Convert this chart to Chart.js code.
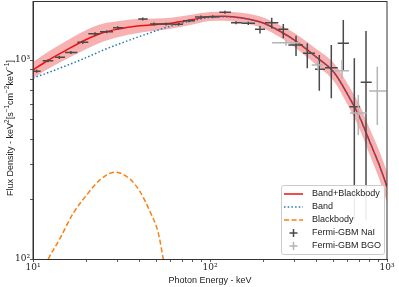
<!DOCTYPE html>
<html>
<head>
<meta charset="utf-8">
<script src="https://cdn.jsdelivr.net/npm/chart.js@4"></script>
<style>
  html, body { margin: 0; padding: 0; background: #fff; }
</style>
</head>
<body>
<canvas id="chart" width="399" height="287"></canvas>
<script>
// model curves (keV, keV^2 s^-1 cm^-2 keV^-1)
const modelEnergy = [10, 12, 15, 20, 25, 30, 40, 50, 60, 80, 100, 120, 150, 200, 250, 300, 400, 500, 600, 700, 800, 900, 1000];
const totalFlux = [891, 989, 1106, 1268, 1375, 1428, 1485, 1510, 1532, 1597, 1654, 1660, 1630, 1534, 1391, 1260, 1033, 871, 671, 517, 387, 300, 231];
const totalUpper = [977, 1091, 1227, 1415, 1525, 1567, 1611, 1619, 1633, 1693, 1743, 1749, 1727, 1635, 1491, 1367, 1133, 966, 758, 594, 450, 353, 275];
const totalLower = [812, 896, 997, 1136, 1239, 1302, 1370, 1408, 1438, 1508, 1570, 1576, 1538, 1440, 1297, 1162, 942, 784, 594, 450, 333, 255, 194];
const bandFlux = [812, 860, 928, 1029, 1123, 1196, 1313, 1407, 1482, 1580, 1636, 1651, 1625, 1530, 1388, 1257, 1031, 869, 670, 516, 386, 300, 230];

const bbEnergy = [11.69, 12.2, 14.21, 16.89, 20.11, 23.9, 29.06, 35.32, 40.22, 45.81, 51.05, 54.47, 56.41];
const bbFlux = [92, 100, 127, 170, 210, 250, 273, 252, 218, 173, 135, 100, 86];

// Fermi-GBM NaI points
const naiEnergy = [10.49, 12.15, 14.08, 16.39, 19.09, 22.40, 26.09, 30.10, 41.68, 48.27, 56.42, 66.38, 76.10, 88.96, 103.6, 121.5, 140.3, 164.6, 191.7, 223.2, 259.5, 306.2, 354.5, 414.5, 484.5, 566.3, 653.7, 761.0];
const naiEnergyLow = [10.04, 11.34, 13.31, 15.16, 17.80, 20.53, 23.90, 28.31, 39.35, 45.81, 51.05, 61.80, 70.39, 82.27, 94.94, 112.9, 131.4, 151.1, 179.6, 204.5, 243.2, 277.0, 335.3, 391.9, 446.3, 526.6, 612.4, 710.4];
const naiEnergyHigh = [11.05, 13.02, 15.16, 17.80, 20.53, 23.90, 28.31, 32.37, 44.46, 51.05, 61.80, 70.39, 82.27, 94.94, 112.9, 131.4, 151.1, 179.6, 204.5, 243.2, 277.0, 335.3, 391.9, 446.3, 526.6, 610.0, 704.0, 819.6];
const naiFlux = [877, 992, 1032, 1091, 1227, 1354, 1388, 1453, 1607, 1517, 1517, 1512, 1576, 1645, 1651, 1737, 1540, 1529, 1427, 1540, 1427, 1190, 1081, 898, 915, 1213, 583, 773];
const naiFluxLow = [862, 974, 1013, 1071, 1205, 1330, 1363, 1427, 1578, 1490, 1490, 1485, 1548, 1616, 1621, 1706, 1512, 1501, 1361, 1442, 1285, 1047, 908, 701, 642, 891, 157, 157];
const naiFluxHigh = [893, 1010, 1051, 1111, 1249, 1378, 1413, 1479, 1636, 1544, 1544, 1539, 1604, 1674, 1681, 1768, 1568, 1557, 1482, 1632, 1517, 1324, 1213, 1060, 1189, 1589, 1020, 1398];

// Fermi-GBM BGO points
const bgoEnergy = [268.8, 407.6, 557.0, 688.6, 881.5];
const bgoEnergyLow = [224.1, 375.5, 508.4, 618.0, 794.3];
const bgoEnergyHigh = [322.4, 434.8, 610.0, 768.0, 995.0];
const bgoFlux = [1222, 944, 884, 542, 699];
const bgoFluxLow = [1180, 884, 809, 420, 471];
const bgoFluxHigh = [1265, 989, 1000, 667, 925];

const xTickValues = [10, 100, 1000];
const xTickLabels = ['10¹', '10²', '10³'];
const yTickValues = [100, 1000];
const yTickLabels = ['10²', '10³'];

// y title pieces: [text, superscript?]
const yTitleParts = [['Flux Density - keV', false], ['2', true], ['[s', false], ['−1', true], ['cm', false], ['−2', true], ['keV', false], ['−1', true], [']', false]];

const SANS = "'Liberation Sans', 'DejaVu Sans', sans-serif";
const SERIF = "'DejaVu Serif', serif";
const NAI_COLOR = '#4a4a4a';
const BGO_COLOR = '#b4b4b4';

function pts(xs, ys) {
    return xs.map((x, i) => ({ x: x, y: ys[i] }));
}

function keepWholeTicks(scale) {
    scale.ticks = scale.ticks.filter(t => {
        let m = t.value / Math.pow(10, Math.floor(Math.log10(t.value)));
        return Math.abs(m - Math.round(m)) < 1e-6;
    });
}

function drawErrorSet(ctx, x, y, ex, exLo, exHi, fy, fyLo, fyHi, color) {
    ctx.strokeStyle = color;
    ctx.lineWidth = 1.5;
    ctx.beginPath();
    for (let i = 0; i < ex.length; i++) {
        let px = x.getPixelForValue(ex[i]);
        let py = y.getPixelForValue(fy[i]);
        ctx.moveTo(x.getPixelForValue(exLo[i]), py);
        ctx.lineTo(x.getPixelForValue(exHi[i]), py);
        ctx.moveTo(px, y.getPixelForValue(fyLo[i]));
        ctx.lineTo(px, y.getPixelForValue(fyHi[i]));
    }
    ctx.stroke();
}

const errorBars = {
    id: 'errorBars',
    afterDatasetsDraw(chart) {
        const { ctx, chartArea: a, scales: { x, y } } = chart;
        ctx.save();
        ctx.beginPath();
        ctx.rect(a.left, a.top, a.right - a.left, a.bottom - a.top);
        ctx.clip();
        drawErrorSet(ctx, x, y, naiEnergy, naiEnergyLow, naiEnergyHigh, naiFlux, naiFluxLow, naiFluxHigh, NAI_COLOR);
        drawErrorSet(ctx, x, y, bgoEnergy, bgoEnergyLow, bgoEnergyHigh, bgoFlux, bgoFluxLow, bgoFluxHigh, BGO_COLOR);
        ctx.restore();
    }
};

const frameAndLegend = {
    id: 'frameAndLegend',
    afterDraw(chart) {
        const { ctx, chartArea: a } = chart;
        ctx.save();
        // axes box
        ctx.strokeStyle = '#333';
        ctx.lineWidth = 1;
        ctx.strokeRect(a.left, a.top + 0.5, a.right - a.left, a.bottom - a.top);

        // y axis title with raised exponents
        ctx.save();
        ctx.translate(12.5, (a.top + a.bottom) / 2 - 2);
        ctx.rotate(-Math.PI / 2);
        ctx.fillStyle = '#222';
        ctx.textBaseline = 'alphabetic';
        let total = 0;
        yTitleParts.forEach(p => {
            ctx.font = (p[1] ? '6.5px ' : '9px ') + SANS;
            total += ctx.measureText(p[0]).width;
        });
        let cx = -total / 2;
        yTitleParts.forEach(p => {
            ctx.font = (p[1] ? '6.5px ' : '9px ') + SANS;
            ctx.fillText(p[0], cx, p[1] ? -3.5 : 0);
            cx += ctx.measureText(p[0]).width;
        });
        ctx.restore();

        // legend in the lower right corner
        const w = 103, h = 69;
        const x0 = a.right - 3 - w, y0 = a.bottom - 5 - h;
        ctx.beginPath();
        ctx.roundRect(x0 + 0.5, y0 + 0.5, w, h, 2);
        ctx.fillStyle = 'rgba(255,255,255,0.9)';
        ctx.fill();
        ctx.strokeStyle = '#cccccc';
        ctx.stroke();

        const rows = [
            { label: chart.data.datasets[2].label, kind: 'line', ds: chart.data.datasets[2] },
            { label: chart.data.datasets[0].label, kind: 'line', ds: chart.data.datasets[0] },
            { label: chart.data.datasets[1].label, kind: 'line', ds: chart.data.datasets[1] },
            { label: 'Fermi-GBM NaI', kind: 'cross', color: NAI_COLOR },
            { label: 'Fermi-GBM BGO', kind: 'cross', color: BGO_COLOR }
        ];
        ctx.font = '9px ' + SANS;
        ctx.textBaseline = 'middle';
        rows.forEach((r, i) => {
            let cy = y0 + 9 + i * 13;
            if (r.kind === 'line') {
                ctx.strokeStyle = r.ds.borderColor;
                ctx.lineWidth = r.ds.borderWidth;
                ctx.setLineDash(r.ds.borderDash || []);
                ctx.beginPath();
                ctx.moveTo(x0 + 3, cy);
                ctx.lineTo(x0 + 22, cy);
                ctx.stroke();
                ctx.setLineDash([]);
            } else {
                ctx.strokeStyle = r.color;
                ctx.lineWidth = 1.5;
                ctx.beginPath();
                ctx.moveTo(x0 + 8.5, cy);
                ctx.lineTo(x0 + 16.5, cy);
                ctx.moveTo(x0 + 12.5, cy - 4);
                ctx.lineTo(x0 + 12.5, cy + 4);
                ctx.stroke();
            }
            ctx.fillStyle = '#222';
            ctx.fillText(r.label, x0 + 31, cy);
        });
        ctx.restore();
    }
};

new Chart('chart', {
    type: 'scatter',
    data: {
        datasets: [
            {
                label: 'Band',
                data: pts(modelEnergy, bandFlux),
                showLine: true,
                borderColor: '#1f77b4',
                borderWidth: 1.5,
                borderDash: [1.5, 2.2],
                pointRadius: 0,
                cubicInterpolationMode: 'monotone',
                fill: false
            },
            {
                label: 'Blackbody',
                data: pts(bbEnergy, bbFlux),
                showLine: true,
                borderColor: '#ff7f0e',
                borderWidth: 1.5,
                borderDash: [5, 2.6],
                pointRadius: 0,
                cubicInterpolationMode: 'monotone',
                fill: false
            },
            {
                label: 'Band+Blackbody',
                data: pts(modelEnergy, totalFlux),
                showLine: true,
                borderColor: '#ee1111',
                borderWidth: 1.5,
                pointRadius: 0,
                cubicInterpolationMode: 'monotone',
                fill: false
            },
            {
                label: 'upper',
                data: pts(modelEnergy, totalUpper),
                showLine: true,
                borderWidth: 0,
                borderColor: 'rgba(0,0,0,0)',
                backgroundColor: 'rgba(235,70,70,0.42)',
                pointRadius: 0,
                cubicInterpolationMode: 'monotone',
                fill: '+1'
            },
            {
                label: 'lower',
                data: pts(modelEnergy, totalLower),
                showLine: true,
                borderWidth: 0,
                borderColor: 'rgba(0,0,0,0)',
                pointRadius: 0,
                cubicInterpolationMode: 'monotone',
                fill: false
            }
        ]
    },
    options: {
        responsive: false,
        animation: false,
        devicePixelRatio: 1,
        layout: { padding: { left: 0, right: 12, top: 1, bottom: 0 } },
        plugins: {
            legend: { display: false },
            tooltip: { enabled: false }
        },
        scales: {
            x: {
                type: 'logarithmic',
                min: 10,
                max: 1000,
                afterBuildTicks: keepWholeTicks,
                afterFit: (s) => { s.height = 28; },
                grid: { drawOnChartArea: false, tickLength: 3, tickColor: '#333', tickWidth: 0.8 },
                border: { color: '#333', width: 1 },
                ticks: {
                    autoSkip: false,
                    maxRotation: 0,
                    padding: 0,
                    color: '#222',
                    font: { family: SERIF, size: 9 },
                    callback: (v) => {
                        let i = xTickValues.indexOf(v);
                        return i >= 0 ? xTickLabels[i] : '';
                    }
                },
                title: {
                    display: true,
                    text: 'Photon Energy - keV',
                    color: '#222',
                    font: { family: SANS, size: 9 },
                    padding: { top: 0, bottom: 1.5 }
                }
            },
            y: {
                type: 'logarithmic',
                min: 100,
                max: 1980,
                afterBuildTicks: keepWholeTicks,
                afterFit: (s) => { s.width = 33; s.paddingTop = 0; s.paddingBottom = 0; },
                grid: { drawOnChartArea: false, tickLength: 3, tickColor: '#333', tickWidth: 0.8 },
                border: { color: '#333', width: 1 },
                ticks: {
                    autoSkip: false,
                    padding: 0,
                    color: '#222',
                    font: { family: SERIF, size: 9 },
                    callback: (v) => {
                        let i = yTickValues.indexOf(v);
                        return i >= 0 ? yTickLabels[i] : '';
                    }
                },
                title: { display: false }
            }
        }
    },
    plugins: [errorBars, frameAndLegend]
});
</script>
</body>
</html>
